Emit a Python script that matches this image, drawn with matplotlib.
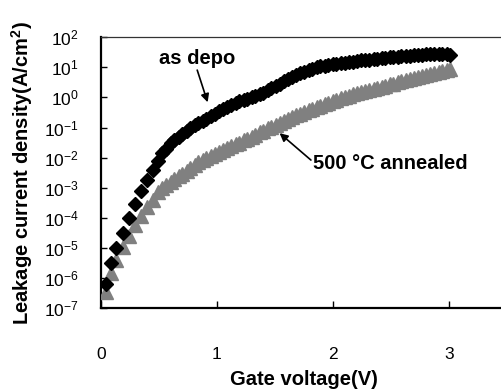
import matplotlib
matplotlib.use('Agg')
import matplotlib.pyplot as plt
import numpy as np

plt.rcParams['font.family'] = ['Liberation Sans', 'DejaVu Sans']
plt.rcParams['mathtext.fontset'] = 'custom'
plt.rcParams['mathtext.rm'] = 'Liberation Sans'
plt.rcParams['mathtext.bf'] = 'Liberation Sans:bold'

# gate voltage sweep (V)
gate_v = [0.04, 0.085, 0.13, 0.19, 0.245, 0.295, 0.345, 0.395, 0.445, 0.49,
          0.53, 0.56, 0.60, 0.63, 0.67, 0.70, 0.74, 0.77, 0.81, 0.84,
          0.88, 0.91, 0.95, 0.98, 1.02, 1.05, 1.09, 1.12, 1.16, 1.19,
          1.23, 1.26, 1.30, 1.33, 1.37, 1.40, 1.44, 1.47, 1.51, 1.54,
          1.58, 1.61, 1.65, 1.68, 1.72, 1.75, 1.79, 1.82, 1.86, 1.89,
          1.93, 1.96, 2.00, 2.03, 2.07, 2.10, 2.14, 2.17, 2.21, 2.24,
          2.28, 2.31, 2.35, 2.38, 2.42, 2.45, 2.49, 2.52, 2.56, 2.59,
          2.63, 2.66, 2.70, 2.73, 2.77, 2.80, 2.84, 2.87, 2.91, 2.94,
          2.98, 3.01]

# log10 of leakage current density (A/cm2)
as_depo_log = [-6.2, -5.5, -5.0, -4.5, -4.0, -3.55, -3.12, -2.75, -2.42, -2.12,
               -1.85, -1.7, -1.52, -1.42, -1.3, -1.2, -1.1, -1.02, -0.93, -0.85,
               -0.78, -0.71, -0.62, -0.55, -0.46, -0.39, -0.32, -0.26, -0.19, -0.13,
               -0.08, -0.04, 0.0, 0.04, 0.1, 0.16, 0.24, 0.31, 0.39, 0.46,
               0.55, 0.62, 0.69, 0.75, 0.81, 0.86, 0.92, 0.96, 1.0, 1.03,
               1.06, 1.08, 1.1, 1.12, 1.14, 1.16, 1.18, 1.19, 1.21, 1.23,
               1.24, 1.26, 1.28, 1.29, 1.31, 1.32, 1.34, 1.35, 1.36, 1.37,
               1.38, 1.39, 1.40, 1.41, 1.42, 1.43, 1.44, 1.44, 1.44, 1.43,
               1.43, 1.42]

annealed_log = [-6.45, -5.82, -5.4, -4.98, -4.6, -4.25, -3.94, -3.65, -3.4, -3.15,
                -3.0, -2.92, -2.8, -2.71, -2.62, -2.54, -2.44, -2.36, -2.25, -2.16,
                -2.08, -2.01, -1.94, -1.88, -1.82, -1.76, -1.69, -1.63, -1.56, -1.5,
                -1.43, -1.37, -1.3, -1.24, -1.16, -1.1, -1.03, -0.97, -0.9, -0.84,
                -0.78, -0.72, -0.66, -0.6, -0.54, -0.49, -0.43, -0.38, -0.32, -0.27,
                -0.22, -0.17, -0.12, -0.08, -0.03, 0.01, 0.06, 0.1, 0.14, 0.18,
                0.22, 0.25, 0.29, 0.32, 0.36, 0.39, 0.43, 0.46, 0.5, 0.53,
                0.57, 0.6, 0.64, 0.67, 0.71, 0.74, 0.78, 0.81, 0.85, 0.88,
                0.92, 0.95]

as_depo = 10.0 ** np.array(as_depo_log)
annealed = 10.0 ** np.array(annealed_log)

fig = plt.figure(figsize=(5.02, 3.92), dpi=100)
ax = fig.add_axes([0.201, 0.214, 0.809, 0.691])

ax.plot(gate_v, annealed, linestyle='none', marker='^', ms=10.5,
        color='#808080', mec='#808080', zorder=3)
ax.plot(gate_v, as_depo, linestyle='none', marker='D', ms=7,
        color='black', mec='black', zorder=4)

ax.set_yscale('log')
ax.set_xlim(0, 3.5)
ax.set_ylim(1e-7, 1e2)
ax.set_xticks([0, 1, 2, 3])
ax.set_yticks([10.0 ** k for k in range(-7, 3)])
ax.yaxis.set_minor_locator(matplotlib.ticker.NullLocator())

ax.tick_params(axis='both', direction='in', labelsize=12.5, width=1, color='black')
ax.tick_params(axis='y', length=4, pad=16)
ax.tick_params(axis='x', length=5, pad=28)

ax.spines['left'].set_linewidth(1.6)
ax.spines['bottom'].set_linewidth(1.6)
ax.spines['top'].set_linewidth(0.9)
ax.spines['top'].set_color('#333333')
ax.spines['right'].set_visible(False)

ax.set_xlabel('Gate voltage(V)', fontsize=14.5, fontweight='bold', labelpad=6)
ax.set_ylabel('Leakage current density(A/cm$^\\mathbf{2}$)', fontsize=14.5,
              fontweight='bold', labelpad=6)

arrow = dict(arrowstyle='-|>', color='black', lw=1.2, mutation_scale=12,
             shrinkA=0, shrinkB=0)
ax.text(0.83, 20, 'as depo', fontsize=14.5, fontweight='bold',
        ha='center', va='center')
ax.annotate('', xy=(0.92, 0.69), xytext=(0.83, 8.1), arrowprops=arrow)

ax.text(1.83, 0.0066, '500 \u00b0C annealed', fontsize=14.5, fontweight='bold',
        ha='left', va='center')
ax.annotate('', xy=(1.54, 0.065), xytext=(1.81, 0.0083), arrowprops=arrow)

fig.savefig('out.png', dpi=100)
